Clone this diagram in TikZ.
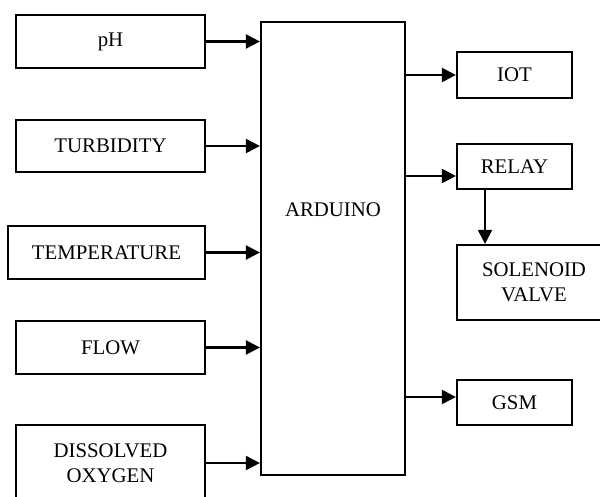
\documentclass[tikz,border=0pt]{standalone}
\usepackage{fontspec}
\setmainfont{Liberation Serif}
\usetikzlibrary{arrows.meta,positioning}

\begin{document}
\begin{tikzpicture}[x=1pt, y=-1pt, line width=2.2pt,
	blk/.style = {draw, rectangle, align=center, inner sep=0pt, font=\fontsize{20.8}{25.5}\selectfont},
	sig/.style = {-{Triangle[length=14pt,width=14pt]}}]
			\useasboundingbox (0,0) rectangle (600,497);
			
			\node[blk, minimum width=189pt, minimum height=53pt] (ph) at (110.5,41.5) {pH};
			\node[blk, minimum width=189pt, minimum height=52pt] (turb) at (110.5,146) {TURBIDITY};
			\node[blk, minimum width=197pt, minimum height=53pt] (temp) at (106.5,252.5) {TEMPERATURE};
			\node[blk, minimum width=189pt, minimum height=53pt] (flow) at (110.5,347.5) {FLOW};
			\node[blk, minimum width=189pt, minimum height=76pt] (dox) at (110.5,463) {DISSOLVED\\OXYGEN};
			
			\node[blk, minimum width=144pt, minimum height=453pt, text depth=77pt] (ard) at (333,248.5) {ARDUINO};
			
			\node[blk, minimum width=115pt, minimum height=46pt] (iot) at (514.5,75) {IOT};
			\node[blk, minimum width=115pt, minimum height=45pt] (relay) at (514.5,166.5) {RELAY};
			\node[blk, minimum width=154pt, minimum height=75pt] (sol) at (534,282.5) {SOLENOID\\VALVE};
			\node[blk, minimum width=115pt, minimum height=45pt] (gsm) at (514.5,402.5) {GSM};
			
			\foreach \s in {ph, turb, temp, flow, dox}
				\draw[sig] (\s.east) -- (\s.east -| ard.west);
			
			\coordinate (relin) at ([yshift=-9.5pt]relay.west);
			\coordinate (gsmin) at ([yshift=5.5pt]gsm.west);
			\coordinate (relout) at ([xshift=-29.5pt]relay.south);
			
			\draw[sig] (iot.west -| ard.east) -- (iot.west);
			\draw[sig] (relin -| ard.east) -- (relin);
			\draw[sig] (gsmin -| ard.east) -- (gsmin);
			\draw[sig] (relout) -- (relout |- sol.north);
			
\end{tikzpicture}
\end{document}
